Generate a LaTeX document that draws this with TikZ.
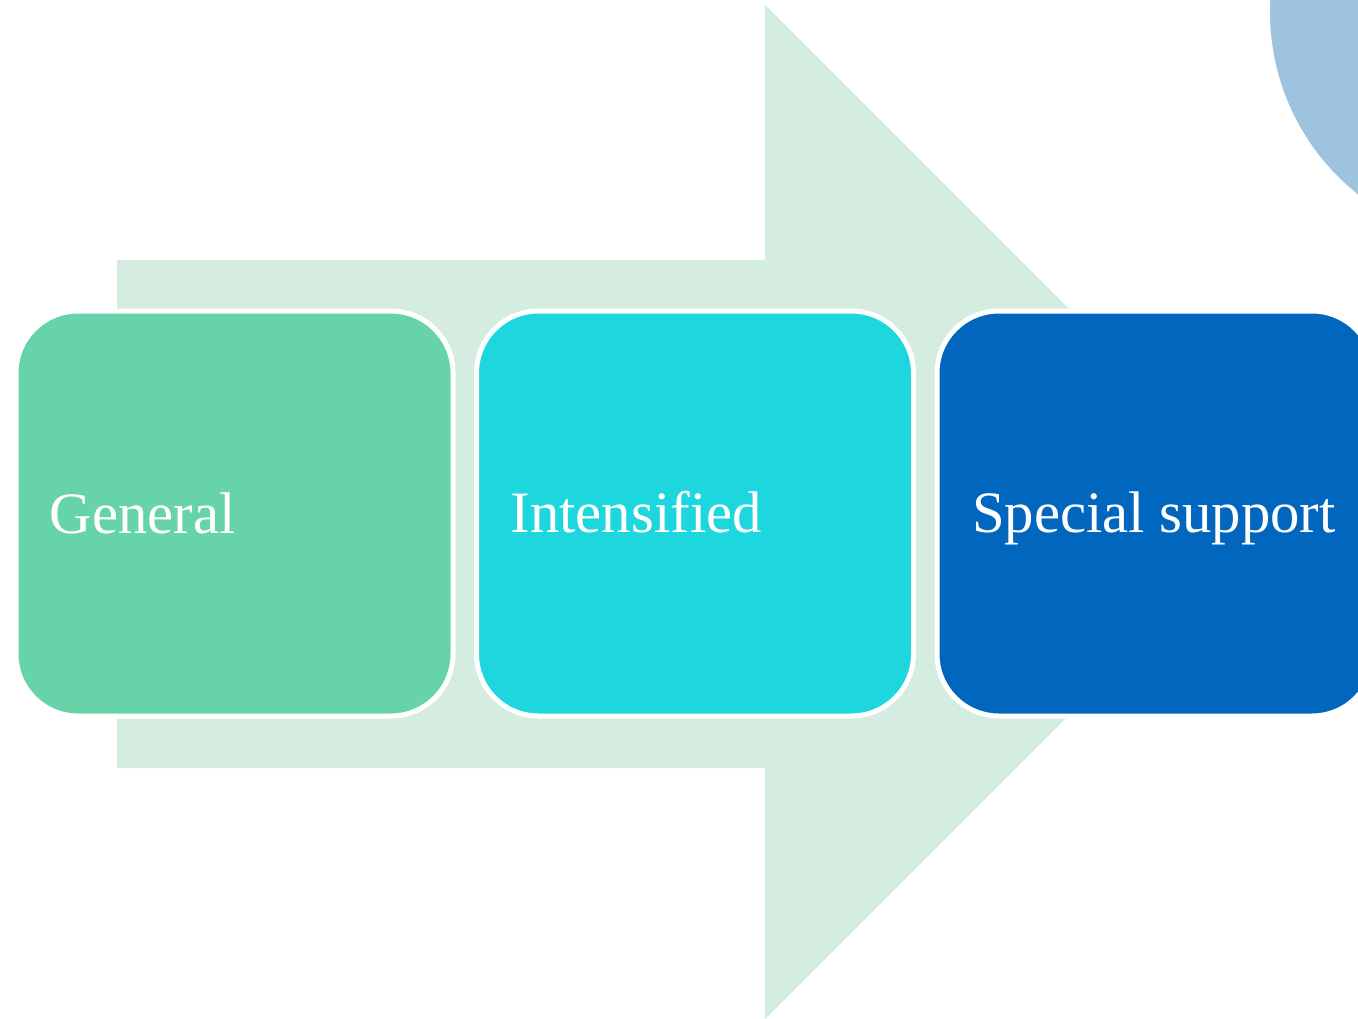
\documentclass[tikz,border=0pt]{standalone}
\usepackage{fontspec}
\setmainfont{Liberation Serif}
\usetikzlibrary{calc}
\definecolor{arrowc}{HTML}{D4EDE0}
\definecolor{boxa}{HTML}{66D3A8}
\definecolor{boxb}{HTML}{1ED6DE}
\definecolor{boxc}{HTML}{0066BE}
\definecolor{circc}{HTML}{9DC3DF}
\tikzset{
  stagebox/.style={rectangle, rounded corners=62pt, draw=white, line width=5pt,
    minimum width=437pt, minimum height=405pt, inner sep=0pt},
  lbl/.style={anchor=base west, text=white, inner sep=0pt,
    font=\fontsize{58.7pt}{60pt}\selectfont},
}
\begin{document}
\begin{tikzpicture}[x=1pt, y=-1pt]
\useasboundingbox (0,0) rectangle (1358,1019);
\clip (0,0) rectangle (1358,1019);
\fill[white] (0,0) rectangle (1358,1019);
% background circle
\fill[circc] (1503,12) circle (233);
% big arrow
\fill[arrowc] (117,260) -- (765,260) -- (765,5) -- (1272,512) -- (765,1019) -- (765,768) -- (117,768) -- cycle;
% stage boxes
\node[stagebox, fill=boxa] (b1) at (234.5,513.5) {};
\node[stagebox, fill=boxb] (b2) at (695,513.5) {};
\node[stagebox, fill=boxc] (b3) at (1155.5,513.5) {};
% labels
\node[lbl] (t1) at ($(b1.west)+(36,19.5)$) {General};
\node[lbl] (t2) at ($(b2.west)+(36.5,19)$) {Intensified};
\node[lbl] (t3) at ($(b3.west)+(37.5,19)$) {Special support};
\end{tikzpicture}
\end{document}
